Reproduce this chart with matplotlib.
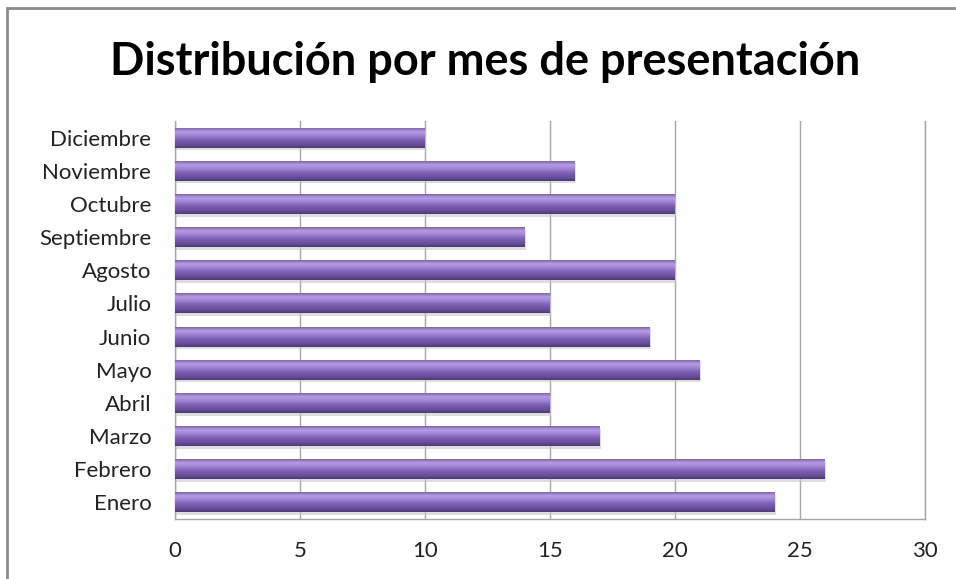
import numpy as np
import matplotlib.pyplot as plt
from matplotlib.colors import LinearSegmentedColormap
from matplotlib.patches import Rectangle

meses = ["Enero", "Febrero", "Marzo", "Abril", "Mayo", "Junio", "Julio",
         "Agosto", "Septiembre", "Octubre", "Noviembre", "Diciembre"]
valores = [24, 26, 17, 15, 21, 19, 15, 20, 14, 20, 16, 10]
xticks = [0, 5, 10, 15, 20, 25, 30]

plt.rcParams['font.family'] = ['Lato', 'DejaVu Sans']

# gradiente tipo "cilindro" (de arriba a abajo)
cmap = LinearSegmentedColormap.from_list(
    "morado", [(0.0, "#7d66ab"), (0.18, "#b59be3"), (0.35, "#a488d8"),
               (0.6, "#7c5fb3"), (0.85, "#654d98"), (1.0, "#4d3a72")])
grad = np.linspace(0, 1, 64).reshape(-1, 1)

fig = plt.figure(figsize=(9.56, 5.79), dpi=100)
ax = fig.add_axes([0.183, 0.1036, 0.7845, 0.6874])

alto = 0.6
y = np.arange(len(meses))
for yi, v in zip(y, valores):
    # sombra
    ax.add_patch(Rectangle((0.05, yi - alto / 2 - 0.08), v, alto,
                           facecolor="#c8c8c8", edgecolor="none", alpha=0.6, zorder=2))
    ax.imshow(grad, aspect="auto", cmap=cmap, origin="upper",
              extent=(0, v, yi - alto / 2, yi + alto / 2), zorder=3)

ax.set_xlim(0, 30)
ax.set_ylim(-0.5, len(meses) - 0.5)
ax.set_yticks(y)
ax.set_yticklabels(meses, fontsize=16, color="#222222")
ax.set_xticks(xticks)
ax.set_xticklabels([str(t) for t in xticks], fontsize=16, color="#222222")
ax.tick_params(axis="y", length=0, pad=17)
ax.tick_params(axis="x", length=0, pad=16)
ax.xaxis.grid(True, color="#a6a6a6", linewidth=1)
ax.set_axisbelow(True)
ax.spines["top"].set_visible(False)
for s in ["left", "bottom", "right"]:
    ax.spines[s].set_color("#a6a6a6")
    ax.spines[s].set_linewidth(1)

fig.text(0.507, 0.893, "Distribución por mes de presentación", ha="center",
         va="center", fontsize=32.5, fontweight="bold", color="#000000")

# borde del gráfico
fig.patches.append(Rectangle((0.007, -0.05), 1.05, 1.036, transform=fig.transFigure,
                             facecolor="none", edgecolor="#8c8c8c", linewidth=2))

fig.savefig("out.png", dpi=100)
